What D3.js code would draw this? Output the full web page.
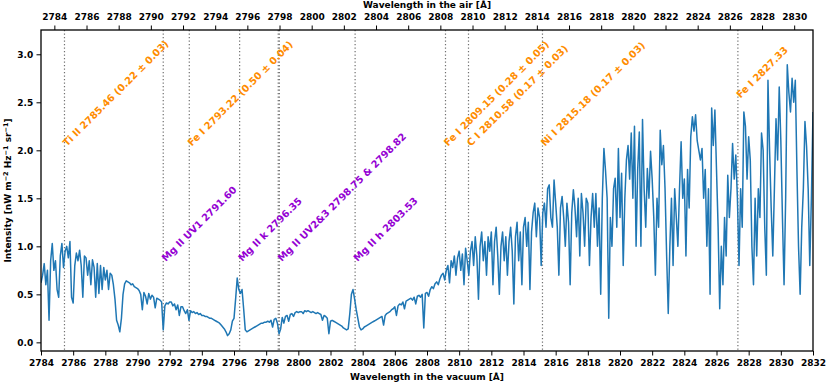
<!DOCTYPE html>
<html><head><meta charset="utf-8">
<script src="https://cdn.jsdelivr.net/npm/d3@7"></script>
<style>
body{margin:0;background:#fff}
svg text{font-family:"DejaVu Sans",sans-serif;font-weight:bold;fill:#000}
</style>
</head><body>
<svg id="chart" width="830" height="384"></svg>
<script>
// ---- data ----
const lambdaStart = 2784.0;   // vacuum wavelength of first sample [Å]
const lambdaStep = 0.1;       // sampling step [Å]
const intensity = [
0.62,0.70,0.82,0.60,0.75,0.23,0.85,1.03,0.75,0.85,
0.55,0.47,0.90,1.03,0.78,0.95,1.00,0.88,1.05,0.47,
0.41,0.80,0.93,0.85,0.96,0.80,0.47,0.90,0.88,0.70,
0.85,0.60,0.86,0.78,0.47,0.82,0.51,0.80,0.55,0.78,
0.65,0.75,0.55,0.72,0.70,0.60,0.45,0.23,0.18,0.11,
0.25,0.50,0.61,0.64,0.63,0.62,0.60,0.61,0.58,0.57,
0.56,0.54,0.50,0.34,0.52,0.48,0.40,0.51,0.45,0.49,
0.47,0.36,0.46,0.45,0.44,0.42,0.13,0.38,0.41,0.40,
0.42,0.42,0.38,0.40,0.34,0.39,0.28,0.37,0.37,0.33,
0.30,0.34,0.23,0.33,0.31,0.32,0.30,0.31,0.29,0.30,
0.28,0.28,0.27,0.27,0.26,0.25,0.25,0.24,0.23,0.22,
0.21,0.20,0.18,0.16,0.14,0.11,0.07,0.09,0.13,0.22,
0.25,0.45,0.67,0.55,0.51,0.55,0.35,0.13,0.11,0.12,
0.13,0.14,0.15,0.16,0.17,0.18,0.19,0.20,0.20,0.21,
0.21,0.22,0.21,0.23,0.16,0.24,0.25,0.20,0.09,0.14,
0.26,0.20,0.27,0.28,0.22,0.29,0.30,0.27,0.31,0.32,
0.31,0.32,0.32,0.30,0.33,0.32,0.33,0.32,0.31,0.32,
0.31,0.30,0.31,0.30,0.29,0.23,0.28,0.27,0.25,0.09,
0.22,0.23,0.22,0.21,0.20,0.19,0.18,0.17,0.15,0.14,
0.13,0.14,0.30,0.50,0.55,0.45,0.34,0.25,0.16,0.13,
0.14,0.16,0.17,0.18,0.19,0.20,0.21,0.22,0.23,0.24,
0.25,0.26,0.27,0.18,0.28,0.30,0.31,0.32,0.34,0.35,
0.37,0.28,0.38,0.40,0.39,0.42,0.35,0.43,0.44,0.45,
0.46,0.44,0.47,0.40,0.48,0.49,0.47,0.50,0.15,0.51,
0.52,0.48,0.55,0.58,0.56,0.61,0.63,0.60,0.66,0.70,
0.72,0.65,0.75,0.80,0.62,0.85,0.78,0.90,0.70,0.88,
0.95,0.75,0.92,0.60,0.98,0.85,0.70,0.95,1.05,0.80,
1.10,0.90,0.45,1.00,1.15,0.85,1.05,0.70,1.10,0.95,
1.15,0.60,1.05,1.20,0.90,0.50,1.00,1.15,0.85,1.10,
0.70,1.05,1.20,0.95,0.40,1.10,1.25,0.85,1.15,0.60,
1.20,1.30,1.00,1.25,0.55,1.15,1.35,1.45,1.10,1.40,
1.30,0.80,1.35,1.45,1.20,1.60,1.64,1.30,1.20,1.69,
1.45,1.20,0.70,1.40,1.52,1.30,1.00,1.45,1.25,0.60,
1.35,1.59,1.40,1.10,1.50,0.90,1.55,1.35,1.00,1.50,
1.45,0.80,1.30,1.55,1.20,1.55,1.00,1.40,0.50,1.50,
2.02,1.79,1.50,0.25,1.30,1.00,1.60,1.71,1.20,2.02,
1.30,1.76,0.80,1.50,1.90,2.05,1.70,2.18,1.50,2.25,
1.00,1.80,2.19,1.00,2.32,1.60,1.20,1.81,1.50,1.99,
1.70,1.30,0.70,1.50,1.20,2.21,1.85,2.05,1.60,0.90,
0.30,1.00,1.50,0.80,1.60,1.30,1.00,1.60,2.09,1.50,
1.70,0.90,1.80,1.40,2.14,2.35,2.20,2.37,2.10,2.00,
1.90,2.02,1.50,1.80,1.00,1.60,0.50,2.44,2.05,2.42,
1.80,1.20,0.35,1.00,0.60,1.30,0.90,1.74,1.30,1.60,
2.07,1.70,1.95,1.50,0.80,1.60,1.20,2.40,2.25,1.70,
2.14,1.90,1.00,0.60,1.50,0.90,1.60,1.30,2.18,2.00,
1.20,0.70,2.73,2.00,1.40,0.90,1.60,2.33,1.90,2.66,
2.10,1.30,0.60,1.50,2.89,2.60,2.40,2.75,2.50,2.73,
1.80,1.00,0.50,1.20,1.60,2.30,2.04,1.60,0.80,1.50,
2.40
];
const bottomTicks = [2784,2786,2788,2790,2792,2794,2796,2798,2800,2802,2804,2806,2808,2810,2812,2814,2816,2818,2820,2822,2824,2826,2828,2830,2832];
const topTicks = [2784,2786,2788,2790,2792,2794,2796,2798,2800,2802,2804,2806,2808,2810,2812,2814,2816,2818,2820,2822,2824,2826,2828,2830];
const yTicks = [0.0,0.5,1.0,1.5,2.0,2.5,3.0];
const airOffset = 0.83; // vacuum - air [Å]

// identified lines (vacuum wavelength, label, label height)
const orangeLines = [2785.46, 2793.22, 2809.15, 2810.58, 2815.18, 2827.33];
const orangeLabels = ["Ti II 2785.46 (0.22 \u00b1 0.03)", "Fe I 2793.22 (0.50 \u00b1 0.04)", "Fe I 2809.15 (0.28 \u00b1 0.05)", "C I 2810.58 (0.17 \u00b1 0.03)", "Ni I 2815.18 (0.17 \u00b1 0.03)", "Fe I 2827.33"];
const orangeLevels = [2.0, 2.0, 2.0, 2.0, 2.0, 2.5];
const purpleLines = [2791.60, 2796.35, 2798.75, 2798.82, 2803.53];
const purpleLabelPos = [2791.60, 2796.35, 2798.82, 2803.53];
const purpleLabels = ["Mg II UV1 2791.60", "Mg II k 2796.35", "Mg II UV2&3 2798.75 & 2798.82", "Mg II h 2803.53"];
const purpleLevel = 0.8;

// ---- layout ----
const W = 830, H = 384;
const m = {left: 41, right: 17, top: 30, bottom: 33};
const svg = d3.select("#chart");
const x = d3.scaleLinear().domain([2784, 2832]).range([m.left, W - m.right]);
const xAir = d3.scaleLinear().domain([2784 - airOffset, 2832 - airOffset]).range([m.left, W - m.right]);
const y = d3.scaleLinear().domain([-0.09, 3.253]).range([H - m.bottom, m.top]);

svg.append("defs").append("clipPath").attr("id", "clip")
  .append("rect").attr("x", m.left).attr("y", m.top)
  .attr("width", W - m.left - m.right).attr("height", H - m.top - m.bottom);

// vertical dotted lines
const allLines = orangeLines.concat(purpleLines);
svg.append("g").selectAll("line").data(allLines).join("line")
  .attr("x1", d => x(d)).attr("x2", d => x(d))
  .attr("y1", m.top).attr("y2", H - m.bottom)
  .attr("stroke", "#707070").attr("stroke-width", 1.2)
  .attr("stroke-dasharray", "1.3,2.2");

// spectrum
const pts = intensity.map((v, i) => [lambdaStart + i * lambdaStep, v]);
svg.append("path").datum(pts)
  .attr("clip-path", "url(#clip)")
  .attr("fill", "none").attr("stroke", "#1f77b4").attr("stroke-width", 1.5)
  .attr("stroke-linejoin", "round")
  .attr("d", d3.line().x(d => x(d[0])).y(d => y(d[1])));

// annotations
function label(g, xv, yv, txt, color, size) {
  const px = x(xv) + 2.5, py = y(yv) - 3.5;
  g.append("text").attr("transform", `translate(${px},${py}) rotate(-45)`)
    .attr("font-size", size).style("fill", color).text(txt);
}
const ann = svg.append("g");
orangeLines.forEach((l, i) => label(ann, l, orangeLevels[i], orangeLabels[i], "#ff8c00", 9.8));
purpleLabelPos.forEach((l, i) => label(ann, l, purpleLevel, purpleLabels[i], "#9400d3", 9.8));

// axes
const fs = 9;
const minorX = d3.range(2784, 2833, 1);
const minorXAir = d3.range(2784, 2831, 1);
const minorY = d3.range(0, 3.26, 0.25);

const gB = svg.append("g").attr("transform", `translate(0,${H - m.bottom})`);
gB.call(d3.axisBottom(x).tickValues(minorX).tickSize(2.5).tickFormat(""));
gB.call(d3.axisBottom(x).tickValues(bottomTicks).tickSize(4.5).tickPadding(4.5).tickFormat(d3.format("d")));
const gT = svg.append("g").attr("transform", `translate(0,${m.top})`);
gT.call(d3.axisTop(xAir).tickValues(minorXAir).tickSize(2.5).tickFormat(""));
gT.call(d3.axisTop(xAir).tickValues(topTicks).tickSize(4.5).tickPadding(6).tickFormat(d3.format("d")));
const gL = svg.append("g").attr("transform", `translate(${m.left},0)`);
gL.call(d3.axisLeft(y).tickValues(minorY).tickSize(2.5).tickFormat(""));
gL.call(d3.axisLeft(y).tickValues(yTicks).tickSize(4.5).tickPadding(3.2).tickFormat(d3.format(".1f")));
[gB, gT, gL].forEach(g => {
  g.selectAll(".domain").remove();
  g.selectAll(".tick line").attr("stroke", "#000").attr("stroke-width", 1);
  g.selectAll("text").attr("font-size", fs).attr("font-family", "DejaVu Sans").attr("font-weight", "bold");
});

// frame
svg.append("rect").attr("x", m.left).attr("y", m.top)
  .attr("width", W - m.left - m.right).attr("height", H - m.top - m.bottom)
  .attr("fill", "none").attr("stroke", "#000").attr("stroke-width", 1.3);

// axis titles
svg.append("text").attr("x", (m.left + W - m.right) / 2).attr("y", 379.5)
  .attr("text-anchor", "middle").attr("font-size", fs).text("Wavelength in the vacuum [\u00c5]");
svg.append("text").attr("x", (m.left + W - m.right) / 2).attr("y", 8)
  .attr("text-anchor", "middle").attr("font-size", fs).text("Wavelength in the air [\u00c5]");
const yl = svg.append("text").attr("transform", `translate(11,${(m.top + H - m.bottom) / 2}) rotate(-90)`)
  .attr("text-anchor", "middle").attr("font-size", fs);
yl.append("tspan").text("Intensity [nW m");
yl.append("tspan").attr("dy", -3.5).attr("font-size", 6.5).text("\u22122");
yl.append("tspan").attr("dy", 3.5).text(" Hz");
yl.append("tspan").attr("dy", -3.5).attr("font-size", 6.5).text("\u22121");
yl.append("tspan").attr("dy", 3.5).text(" sr");
yl.append("tspan").attr("dy", -3.5).attr("font-size", 6.5).text("\u22121");
yl.append("tspan").attr("dy", 3.5).text("]");
</script>
</body></html>
